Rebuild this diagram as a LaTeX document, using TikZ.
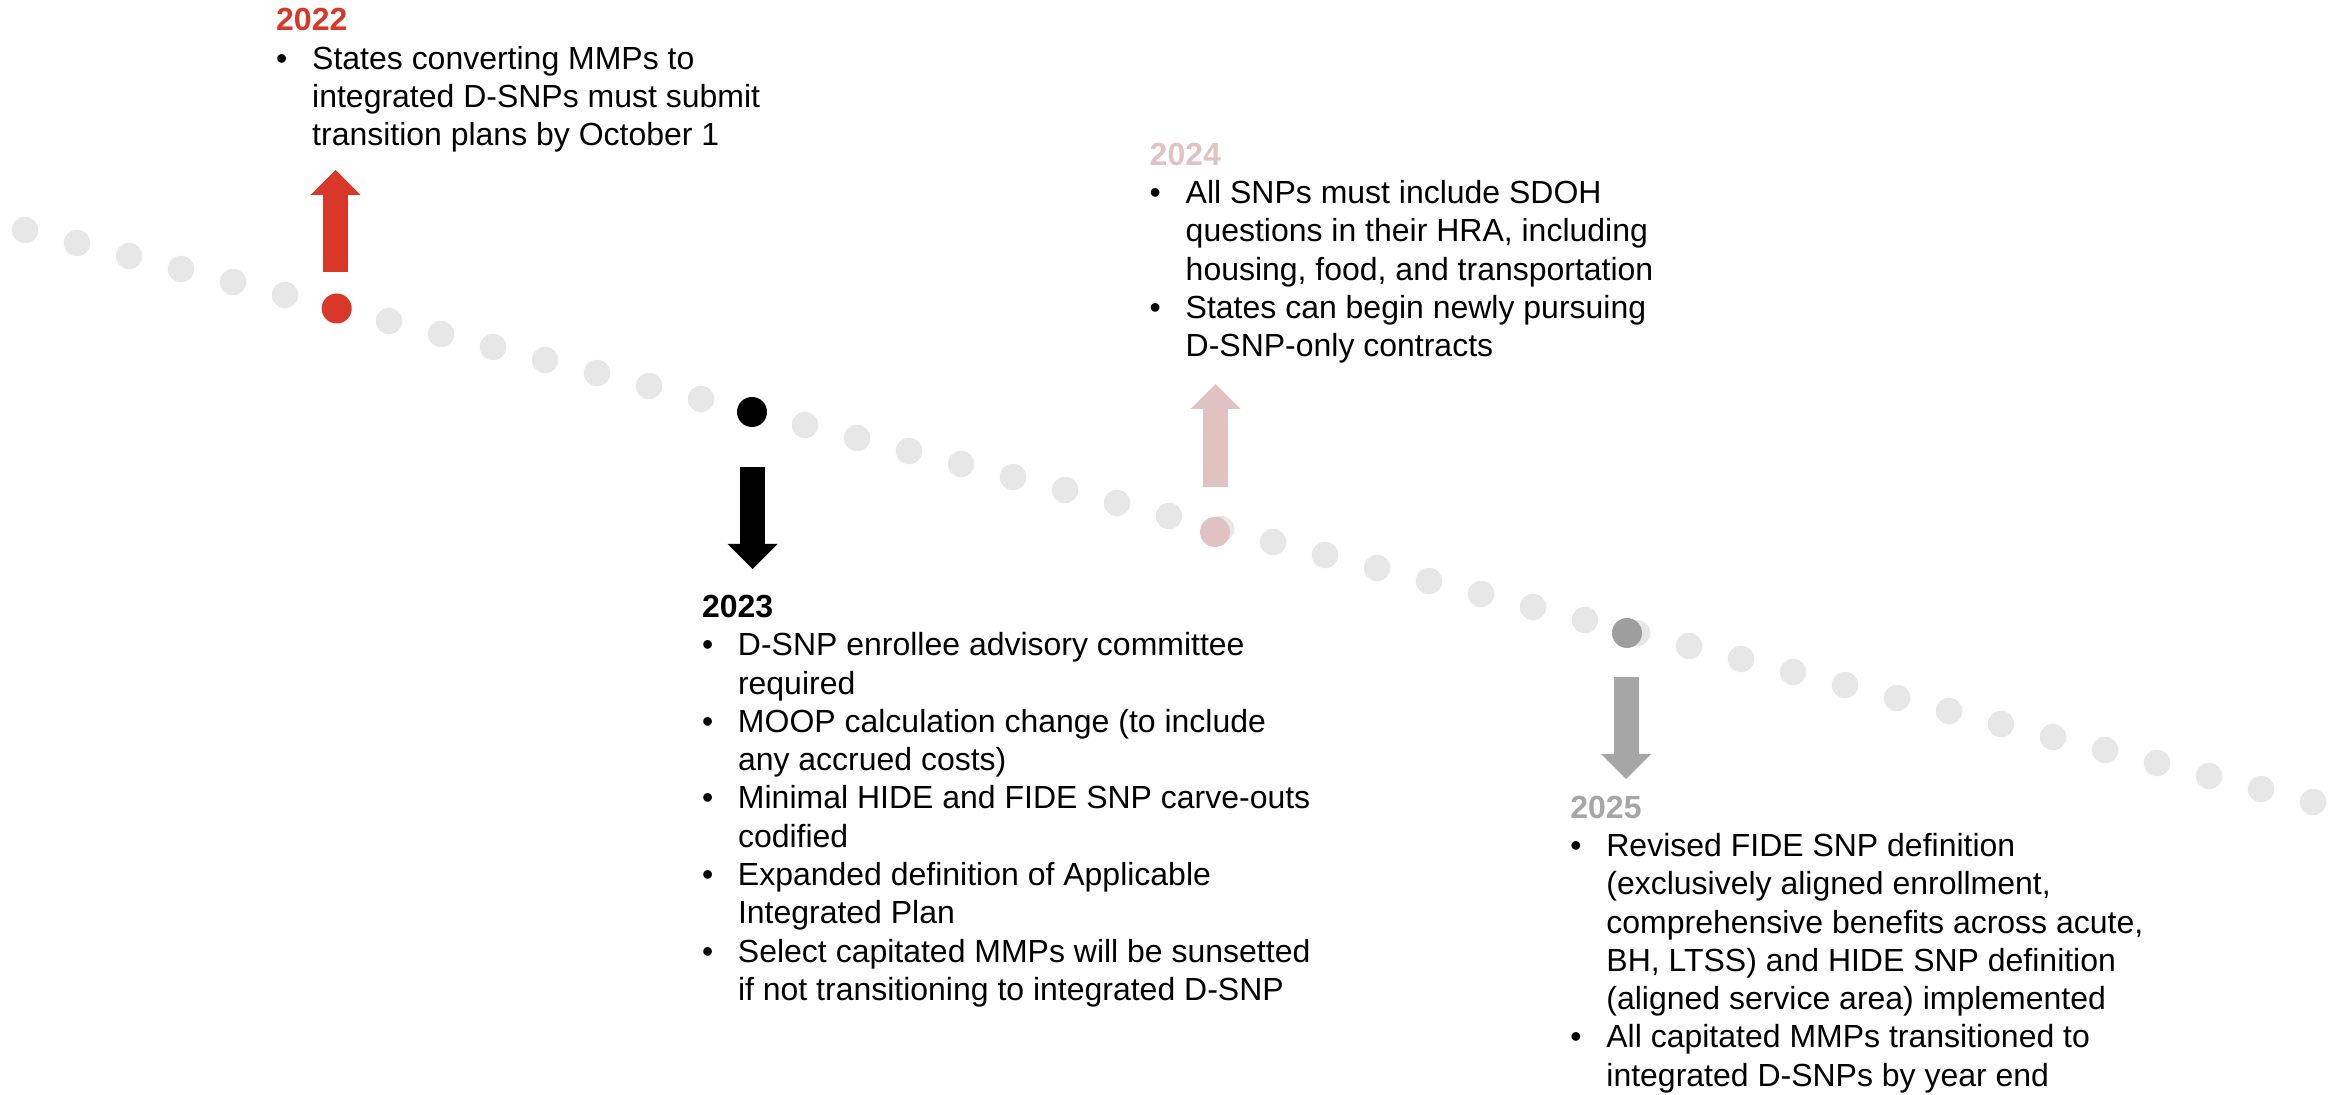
\documentclass[tikz,border=0pt]{standalone}
\usepackage{fontspec}
\setmainfont{Liberation Sans}
\usetikzlibrary{arrows.meta}

\definecolor{tlred}{RGB}{217,56,41}
\definecolor{tlpink}{RGB}{224,194,195}
\definecolor{tlgrey}{RGB}{166,166,166}
\definecolor{tldot}{RGB}{231,231,231}

\tikzstyle{greydot} = [circle, fill=tldot, minimum size=0.265cm, inner sep=0pt]
\tikzstyle{keydot} = [circle, minimum size=0.3cm, inner sep=0pt]
\tikzstyle{blockarrow} = [line width=0.25cm, -{Triangle[width=0.5cm,length=0.25cm,line width=0pt]}]
\tikzstyle{event} = [anchor=north west, inner sep=0pt, align=left, font=\fontsize{9.1pt}{10.9pt}\selectfont]

\newcommand{\bl}{\makebox[0.36cm][l]{\textbullet}}
\newcommand{\cl}{\hspace*{0.36cm}}

\begin{document}
\begin{tikzpicture}[scale=1]
	\useasboundingbox (0,0) rectangle (23.41,-10.95);
	
	% dotted line
	\foreach \i in {0,...,44}
		\node[greydot] (d\i) at ({0.25+0.52*\i},{-2.30-0.13*\i}) {};
	
	% year dots
	\node[keydot, fill=tlred] (m22) at (3.367,-3.085) {};
	\node[keydot, fill=black] (m23) at (7.52,-4.12) {};
	\node[keydot, fill=tlpink] (m24) at (12.15,-5.32) {};
	\node[keydot, fill=tlgrey!95!black] (m25) at (16.27,-6.33) {};
	
	% arrows
	\coordinate (a22s) at (3.357,-2.72); \coordinate (a22e) at (3.357,-1.70);
	\coordinate (a23s) at (7.525,-4.67); \coordinate (a23e) at (7.525,-5.69);
	\coordinate (a24s) at (12.157,-4.87); \coordinate (a24e) at (12.157,-3.84);
	\coordinate (a25s) at (16.26,-6.77); \coordinate (a25e) at (16.26,-7.79);
	\draw[blockarrow, tlred] (a22s) -- (a22e);
	\draw[blockarrow, black] (a23s) -- (a23e);
	\draw[blockarrow, tlpink] (a24s) -- (a24e);
	\draw[blockarrow, tlgrey] (a25s) -- (a25e);
	
	% texts
	\node[event] (e22) at (2.755,-0.078) {\textcolor{tlred}{\textbf{2022}}\\
		\bl States converting MMPs to\\
		\cl integrated D-SNPs must submit\\
		\cl transition plans by October 1};
	
	\node[event] (e23) at (7.013,-5.944) {\textbf{2023}\\
		\bl D-SNP enrollee advisory committee\\
		\cl required\\
		\bl MOOP calculation change (to include\\
		\cl any accrued costs)\\
		\bl Minimal HIDE and FIDE SNP carve-outs\\
		\cl codified\\
		\bl Expanded definition of Applicable\\
		\cl Integrated Plan\\
		\bl Select capitated MMPs will be sunsetted\\
		\cl if not transitioning to integrated D-SNP};
	
	\node[event] (e24) at (11.49,-1.421) {\textcolor{tlpink}{\textbf{2024}}\\
		\bl All SNPs must include SDOH\\
		\cl questions in their HRA, including\\
		\cl housing, food, and transportation\\
		\bl States can begin newly pursuing\\
		\cl D-SNP-only contracts};
	
	\node[event] (e25) at (15.697,-7.951) {\textcolor{tlgrey}{\textbf{2025}}\\
		\bl Revised FIDE SNP definition\\
		\cl (exclusively aligned enrollment,\\
		\cl comprehensive benefits across acute,\\
		\cl BH, LTSS) and HIDE SNP definition\\
		\cl (aligned service area) implemented\\
		\bl All capitated MMPs transitioned to\\
		\cl integrated D-SNPs by year end};
	
\end{tikzpicture}
\end{document}
